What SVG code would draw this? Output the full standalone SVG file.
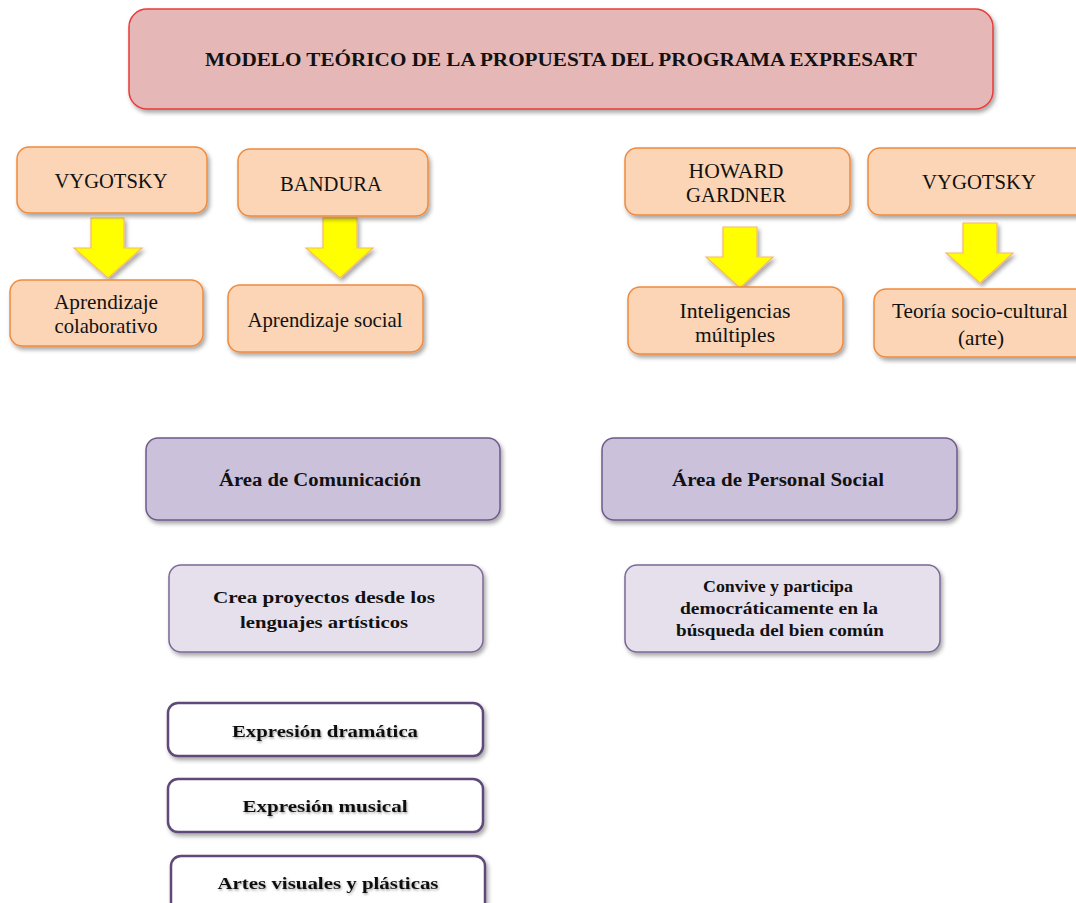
<svg xmlns="http://www.w3.org/2000/svg" width="1076" height="903" viewBox="0 0 1076 903">
<defs>
<filter id="sh" x="-10%" y="-20%" width="125%" height="150%">
<feDropShadow dx="2" dy="3" stdDeviation="2" flood-color="#000" flood-opacity="0.35"/>
</filter>
<filter id="tsh" x="-5%" y="-30%" width="115%" height="170%">
<feDropShadow dx="1" dy="1.5" stdDeviation="1" flood-color="#000" flood-opacity="0.35"/>
</filter>
<style>
.title{fill:#e5b8b7;stroke:#ea3a3a;stroke-width:1.5;filter:url(#sh)}
.or{fill:#fbd5b5;stroke:#f08a3c;stroke-width:1.5;filter:url(#sh)}
.area{fill:#ccc1da;stroke:#6c5a8a;stroke-width:1.5;filter:url(#sh)}
.comp{fill:#e5e0ec;stroke:#7a6896;stroke-width:1.5;filter:url(#sh)}
.exp{fill:#ffffff;stroke:#5f497a;stroke-width:2.5;filter:url(#sh)}
.arr{fill:#ffff00;stroke:#f6b96a;stroke-width:1.2;filter:url(#sh)}
text{font-family:"Liberation Serif","Times New Roman",serif;fill:#111;text-anchor:middle}
.t20{font-size:21px}
.tt{font-size:19px;font-weight:bold}
.ab{font-size:18px;font-weight:bold}
.cb{font-size:17px;font-weight:bold}
.cs{font-size:16px;font-weight:bold}
.eb{font-size:17px;font-weight:bold;filter:url(#tsh)}
</style>
</defs>
<rect width="1076" height="903" fill="#ffffff"/>

<g id="connectors">
<polygon class="arr" points="91,218 124,218 124,248 142,248 108,278 74,248 91,248"/>
<polygon class="arr" points="323,218 357,218 357,248 373,248 340,278 306,248 323,248"/>
<polygon class="arr" points="723,227 757,227 757,257 773,257 740,288 706,257 723,257"/>
<polygon class="arr" points="963,223 997,223 997,253 1013,253 980,283 946,253 963,253"/>
</g>

<g id="n-title">
<rect class="title" x="129" y="9" width="864" height="100" rx="18"/>
<text class="tt" x="561" y="66" textLength="712" lengthAdjust="spacingAndGlyphs">MODELO TEÓRICO DE LA PROPUESTA DEL PROGRAMA EXPRESART</text>
</g>

<g id="n-vygotsky1">
<rect class="or" x="17" y="147" width="190" height="66" rx="12"/>
<text class="t20" x="111" y="188" textLength="113" lengthAdjust="spacingAndGlyphs">VYGOTSKY</text>
</g>
<g id="n-bandura">
<rect class="or" x="238" y="149" width="190" height="67" rx="12"/>
<text class="t20" x="331" y="191" textLength="102" lengthAdjust="spacingAndGlyphs">BANDURA</text>
</g>
<g id="n-gardner">
<rect class="or" x="625" y="148" width="225" height="67" rx="12"/>
<text class="t20" x="736" y="178" textLength="95" lengthAdjust="spacingAndGlyphs">HOWARD</text>
<text class="t20" x="736" y="202" textLength="100" lengthAdjust="spacingAndGlyphs">GARDNER</text>
</g>
<g id="n-vygotsky2">
<rect class="or" x="868" y="148" width="230" height="67" rx="12"/>
<text class="t20" x="979" y="189" textLength="114" lengthAdjust="spacingAndGlyphs">VYGOTSKY</text>
</g>

<g id="n-colab">
<rect class="or" x="10" y="280" width="193" height="66" rx="12"/>
<text class="t20" x="106" y="309" textLength="104" lengthAdjust="spacingAndGlyphs">Aprendizaje</text>
<text class="t20" x="106" y="333" textLength="103" lengthAdjust="spacingAndGlyphs">colaborativo</text>
</g>
<g id="n-social">
<rect class="or" x="228" y="285" width="195" height="67" rx="12"/>
<text class="t20" x="325" y="327" textLength="155" lengthAdjust="spacingAndGlyphs">Aprendizaje social</text>
</g>
<g id="n-intel">
<rect class="or" x="628" y="287" width="215" height="67" rx="12"/>
<text class="t20" x="735" y="318" textLength="111" lengthAdjust="spacingAndGlyphs">Inteligencias</text>
<text class="t20" x="735" y="342" textLength="80" lengthAdjust="spacingAndGlyphs">múltiples</text>
</g>
<g id="n-teoria">
<rect class="or" x="874" y="289" width="224" height="68" rx="12"/>
<text class="t20" x="980" y="318" textLength="176" lengthAdjust="spacingAndGlyphs">Teoría socio-cultural</text>
<text class="t20" x="981" y="345" textLength="46" lengthAdjust="spacingAndGlyphs">(arte)</text>
</g>

<g id="n-area-com">
<rect class="area" x="146" y="438" width="354" height="82" rx="12"/>
<text class="ab" x="320" y="486" textLength="202" lengthAdjust="spacingAndGlyphs">Área de Comunicación</text>
</g>
<g id="n-area-ps">
<rect class="area" x="602" y="438" width="355" height="82" rx="12"/>
<text class="ab" x="778" y="486" textLength="212" lengthAdjust="spacingAndGlyphs">Área de Personal Social</text>
</g>

<g id="n-crea">
<rect class="comp" x="169" y="565" width="314" height="87" rx="12"/>
<text class="cb" x="324" y="603" textLength="222" lengthAdjust="spacingAndGlyphs">Crea proyectos desde los</text>
<text class="cb" x="324" y="628" textLength="168" lengthAdjust="spacingAndGlyphs">lenguajes artísticos</text>
</g>
<g id="n-convive">
<rect class="comp" x="625" y="565" width="315" height="87" rx="12"/>
<text class="cs" x="778" y="592" textLength="150" lengthAdjust="spacingAndGlyphs">Convive y participa</text>
<text class="cs" x="779" y="614" textLength="198" lengthAdjust="spacingAndGlyphs">democráticamente en la</text>
<text class="cs" x="780" y="636" textLength="208" lengthAdjust="spacingAndGlyphs">búsqueda del bien común</text>
</g>

<g id="n-dram">
<rect class="exp" x="168" y="703" width="315" height="53" rx="10"/>
<text class="eb" x="325" y="737" textLength="186" lengthAdjust="spacingAndGlyphs">Expresión dramática</text>
</g>
<g id="n-mus">
<rect class="exp" x="168" y="779" width="315" height="53" rx="10"/>
<text class="eb" x="325" y="812" textLength="165" lengthAdjust="spacingAndGlyphs">Expresión musical</text>
</g>
<g id="n-artes">
<rect class="exp" x="171" y="856" width="314" height="60" rx="10"/>
<text class="eb" x="328" y="889" textLength="221" lengthAdjust="spacingAndGlyphs">Artes visuales y plásticas</text>
</g>
</svg>
